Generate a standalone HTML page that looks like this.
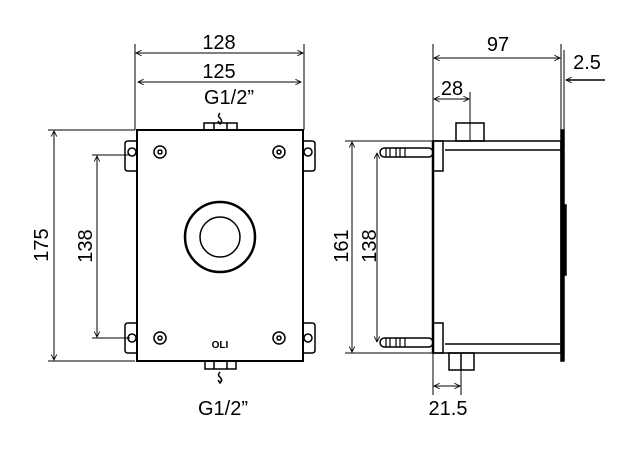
<!DOCTYPE html>
<html><head><style>body{margin:0;background:#fff}svg{display:block}</style></head><body>
<svg width="638" height="450" viewBox="0 0 638 450" xmlns="http://www.w3.org/2000/svg" font-family="Liberation Sans, sans-serif" fill="none" stroke="#000">
<defs>
<marker id="a" viewBox="0 0 10 10" refX="9" refY="5" markerWidth="7" markerHeight="7" orient="auto-start-reverse" markerUnits="userSpaceOnUse"><path d="M1,1 L9,5 L1,9" stroke="#000" fill="none" stroke-width="1.2"/></marker>
</defs>
<g stroke-width="1">
<line x1="135" y1="44" x2="135" y2="130"/><line x1="304" y1="44" x2="304" y2="130"/>
<line x1="136" y1="53" x2="303" y2="53" marker-start="url(#a)" marker-end="url(#a)"/>
<line x1="138" y1="82" x2="301" y2="82" marker-start="url(#a)" marker-end="url(#a)"/>
<line x1="48" y1="130" x2="135" y2="130"/><line x1="48" y1="361" x2="135" y2="361"/>
<line x1="54" y1="131" x2="54" y2="360" marker-start="url(#a)" marker-end="url(#a)"/>
<line x1="92" y1="155" x2="130" y2="155"/><line x1="92" y1="338" x2="130" y2="338"/>
<line x1="97" y1="156" x2="97" y2="337" marker-start="url(#a)" marker-end="url(#a)"/>
</g>
<g fill="#000" stroke="none" font-size="20" text-anchor="middle">
<text x="219" y="49">128</text><text x="219" y="78">125</text><text x="229" y="104">G1/2”</text>
<text x="223" y="415">G1/2”</text>
<text transform="translate(48,245) rotate(-90)">175</text>
<text transform="translate(92,246) rotate(-90)">138</text>
<text x="498" y="51">97</text><text x="587" y="69">2.5</text><text x="452" y="95">28</text>
<text transform="translate(348,246) rotate(-90)">161</text>
<text transform="translate(376,246) rotate(-90)">138</text>
<text x="448" y="415">21.5</text>
<text x="220" y="348" font-size="10" font-weight="bold">OLI</text>
</g>
<g stroke-width="1.5">
<path d="M137,141 h-9 q-3,0 -3,3 v24 q0,3 3,3 h9"/><path d="M137,323 h-9 q-3,0 -3,3 v24 q0,3 3,3 h9"/>
<path d="M303,141 h9 q3,0 3,3 v24 q0,3 -3,3 h-9"/><path d="M303,323 h9 q3,0 3,3 v24 q0,3 -3,3 h-9"/>
<circle cx="132" cy="152" r="4"/><circle cx="132" cy="338" r="4"/><circle cx="308" cy="152" r="4"/><circle cx="308" cy="338" r="4"/>
<rect x="137" y="130" width="166" height="231" stroke-width="2"/>
<rect x="204" y="123" width="33" height="7"/><rect x="205" y="361" width="31" height="8"/>
<line x1="214" y1="123" x2="214" y2="130"/><line x1="227" y1="123" x2="227" y2="130"/>
<line x1="214" y1="361" x2="214" y2="369"/><line x1="227" y1="361" x2="227" y2="369"/>
<circle cx="160" cy="152" r="6"/><circle cx="160" cy="152" r="2"/>
<circle cx="279" cy="152" r="6"/><circle cx="279" cy="152" r="2"/>
<circle cx="160" cy="338" r="6"/><circle cx="160" cy="338" r="2"/>
<circle cx="279" cy="338" r="6"/><circle cx="279" cy="338" r="2"/>
<circle cx="220" cy="237" r="35" stroke-width="2.5"/><circle cx="220" cy="237" r="20"/>
<path d="M220,113 q-3,3 0,5 q3,3 0,6 M218,121 l2,3 l2,-3"/>
<path d="M220,372 q-3,3 0,5 q3,3 0,6 M218,380 l2,3 l2,-3"/>
</g>
<g stroke-width="1">
<line x1="433" y1="44" x2="433" y2="141"/><line x1="561" y1="44" x2="561" y2="130"/><line x1="564" y1="50" x2="564" y2="130"/>
<line x1="434" y1="58" x2="560" y2="58" marker-start="url(#a)" marker-end="url(#a)"/>
<line x1="605" y1="80" x2="566" y2="80" marker-end="url(#a)" stroke-width="1.5"/>
<line x1="470" y1="92" x2="470" y2="141"/>
<line x1="434" y1="99" x2="469" y2="99" marker-start="url(#a)" marker-end="url(#a)"/>
<line x1="345" y1="141" x2="433" y2="141"/><line x1="345" y1="353" x2="433" y2="353"/>
<line x1="352" y1="142" x2="352" y2="352" marker-start="url(#a)" marker-end="url(#a)"/>
<line x1="377" y1="153" x2="377" y2="342" marker-start="url(#a)" marker-end="url(#a)"/>
<line x1="433" y1="353" x2="433" y2="395"/><line x1="461" y1="370" x2="461" y2="395"/>
<line x1="434" y1="386" x2="460" y2="386" marker-start="url(#a)" marker-end="url(#a)"/>
</g>
<g stroke-width="1.5">
<rect x="433" y="141" width="128" height="212"/>
<line x1="433" y1="141" x2="433" y2="353" stroke-width="2.5"/>
<line x1="445" y1="150" x2="561" y2="150"/><line x1="445" y1="344" x2="561" y2="344"/>
<rect x="561" y="130" width="3" height="231" fill="#000"/>
<rect x="564" y="205" width="2" height="70" fill="#000"/>
<rect x="456" y="123" width="28" height="18"/><rect x="449" y="353" width="25" height="17"/>
<line x1="461" y1="353" x2="461" y2="370"/>
<rect x="433" y="141" width="10" height="30"/><rect x="433" y="323" width="10" height="30"/>
<rect x="380" y="148" width="53" height="9" rx="4.5"/><rect x="380" y="338" width="53" height="9" rx="4.5"/>
<path d="M386,148 v9 M390,148 v9 M396,148 v9 M400,148 v9 M405,148 v9 M386,338 v9 M390,338 v9 M396,338 v9 M400,338 v9 M405,338 v9" stroke-width="1.2"/>
</g>
</svg>
</body></html>
